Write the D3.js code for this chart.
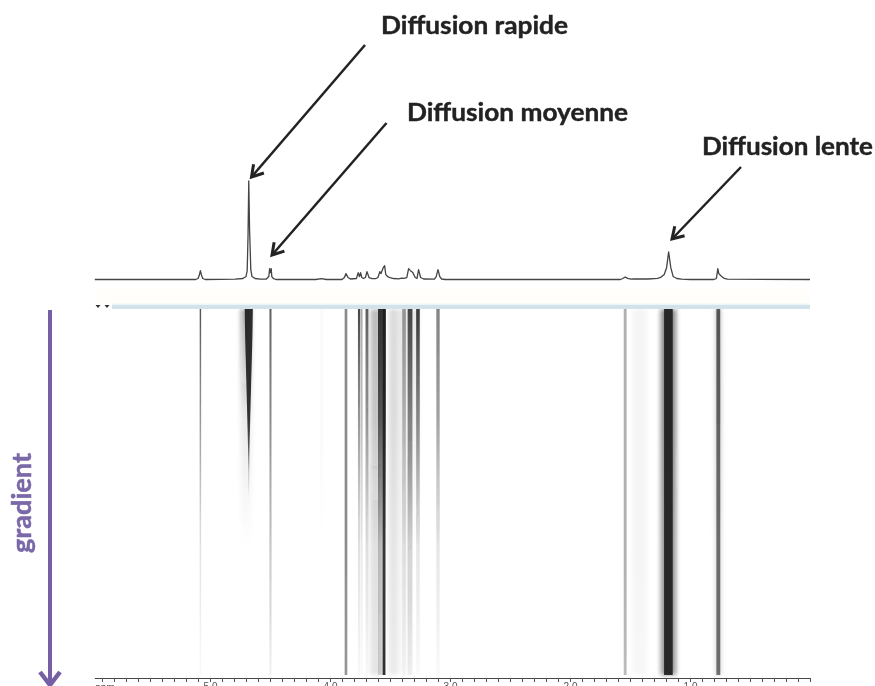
<!DOCTYPE html>
<html>
<head>
<meta charset="utf-8">
<script src="https://cdn.jsdelivr.net/npm/d3@7"></script>
<style>
html,body{margin:0;padding:0;background:#fff;overflow:hidden}
svg{display:block}
</style>
</head>
<body>
<div id="chart"></div>
<script>
// 1D spectrum
const spectrumPpm = [5.96,5.12,5.10,5.09,5.08,5.07,5.06,5.04,4.79,4.725,4.70,4.69,4.683,4.677,4.67,4.66,4.65,4.625,4.58,4.53,4.51,4.503,4.497,4.49,4.485,4.47,4.45,4.12,4.07,4.03,3.90,3.88,3.867,3.85,3.83,3.78,3.765,3.755,3.745,3.735,3.72,3.705,3.692,3.675,3.65,3.62,3.60,3.585,3.575,3.56,3.545,3.535,3.52,3.50,3.47,3.43,3.40,3.385,3.36,3.345,3.33,3.31,3.29,3.275,3.262,3.245,3.22,3.13,3.115,3.10,3.085,3.07,3.04,1.58,1.56,1.54,1.52,1.49,1.47,1.35,1.27,1.24,1.215,1.195,1.178,1.16,1.14,1.11,1.07,1.00,0.80,0.78,0.768,0.76,0.745,0.72,0.69,0];
const spectrumInt = [0,0,1,4,9,4,1,0,0.4,1,3,9,45,100,50,10,3,1,0.3,0.5,3,11,7,11,3,0.8,0,0,0.8,0,0,2,6,2,0.5,1,7,3,7,2,1,2,8,2,0.8,0.8,2,8,6,11,14,5,3,2,1,0.6,1.5,1.2,2,11,9,7,2,1,10,2,0.5,0.3,3,10,3,0.5,0,0,1,2.6,1.2,0.4,0.5,0.5,1.2,2.5,5,12,28,12,3,1,0.4,0,0,1,11,6,4,1.5,0.3,0];

// 2D map: one row per signal, strength read at four gradient depths
const depths = [0,0.3,0.65,1];
const bandPpm   = [5.08,4.496,4.07,3.867,3.757,3.735,3.692,3.567,3.55,3.383,3.333,3.267,3.10,1.54,1.18,0.764];
const bandWidth = [0.012,0.017,0.03,0.022,0.02,0.012,0.024,0.066,0.022,0.03,0.04,0.03,0.028,0.024,0.072,0.032];
const bandD0 = [0.75,0.7,0.02,0.5,0.8,0.4,0.7,0.9,0.9,0.4,0.8,0.85,0.55,0.35,0.92,0.7];
const bandD1 = [0.45,0.5,0.02,0.5,0.45,0.3,0.45,0.7,0.9,0.3,0.55,0.5,0.4,0.35,0.92,0.65];
const bandD2 = [0.12,0.25,0,0.5,0.12,0.1,0.12,0.25,0.85,0.1,0.2,0.1,0.1,0.35,0.92,0.6];
const bandD3 = [0.02,0.05,0,0.45,0.03,0.02,0.02,0.15,0.9,0.03,0.06,0.02,0.02,0.3,0.92,0.6];

// wider, softer signal skirts
const haloPpm   = [4.70,3.62,3.47,3.383,3.29,1.42,1.18,0.764];
const haloWidth = [0.09,0.09,0.08,0.07,0.06,0.12,0.13,0.05];
const haloD0 = [0.35,0.3,0.14,0.12,0.1,0.04,0.5,0.2];
const haloD1 = [0.08,0.25,0.14,0.08,0.06,0.04,0.5,0.2];
const haloD2 = [0,0.12,0.1,0.04,0,0.04,0.45,0.15];
const haloD3 = [0,0.1,0.08,0.02,0,0.03,0.45,0.15];

// fast-diffusing signal narrows with the gradient
const taperDepth = [0,0.08,0.2,0.3,0.38,0.44,0.52];
const taperHalf  = [0.034,0.03,0.02,0.012,0.006,0.004,0.002];
const taperPpm = 4.677;
const taperAlpha = [0.92,0.92,0.92,0.9,0.7,0.3,0];

const axisLabels = [5,4,3,2,1];
const labels = [
  {text:"Diffusion rapide", x:381, y:34, w:187},
  {text:"Diffusion moyenne", x:407, y:121, w:221},
  {text:"Diffusion lente", x:702, y:155, w:171}
];
const arrows = [
  [365,45,251.5,177],
  [386.5,123,272,255],
  [741,167,672,239]
];

const W = 875, H = 686;
const svg = d3.select("#chart").append("svg").attr("width",W).attr("height",H);
const defs = svg.append("defs");
const blur = (id,s)=>defs.append("filter").attr("id",id)
  .attr("x","-100%").attr("y","-5%").attr("width","300%").attr("height","110%")
  .append("feGaussianBlur").attr("stdDeviation",s);
blur("b1",0.75); blur("b2",2); blur("b0",0.35);

const x = d3.scaleLinear().domain([0,5]).range([810,210]);
const yS = d3.scaleLinear().domain([0,100]).range([279.5,181]);
const yD = d3.scaleLinear().domain([0,1]).range([309,675]);

// cream strip and separator
svg.append("rect").attr("x",x(5.96)).attr("y",289).attr("width",x(0)-x(5.96)).attr("height",15).attr("fill","#fffefb");

// spectrum
const line = d3.line().x(d=>x(d[0])).y(d=>yS(d[1]));
svg.append("path").datum(spectrumPpm.map((p,i)=>[p,spectrumInt[i]]))
  .attr("d",line).attr("fill","none").attr("stroke","#444").attr("stroke-width",1.3)
  .attr("stroke-linejoin","round").attr("filter","url(#b0)");

// 2D map
function grad(id,vals,depthList){
  const g = defs.append("linearGradient").attr("id",id).attr("x1",0).attr("x2",0).attr("y1",0).attr("y2",1);
  depthList.forEach((d,i)=>g.append("stop").attr("offset",d).attr("stop-color","#1c1c1c").attr("stop-opacity",vals[i]));
}
const gHalo = svg.append("g").attr("filter","url(#b2)");
haloPpm.forEach((p,i)=>{
  grad("h"+i,[haloD0[i],haloD1[i],haloD2[i],haloD3[i]],depths);
  gHalo.append("rect").attr("x",x(p+haloWidth[i]/2)).attr("y",yD(0))
    .attr("width",x(0)-x(haloWidth[i])).attr("height",yD(1)-yD(0)).attr("fill",`url(#h${i})`);
});
const gBand = svg.append("g").attr("filter","url(#b1)");
bandPpm.forEach((p,i)=>{
  grad("g"+i,[bandD0[i],bandD1[i],bandD2[i],bandD3[i]],depths);
  gBand.append("rect").attr("x",x(p+bandWidth[i]/2)).attr("y",yD(0))
    .attr("width",x(0)-x(bandWidth[i])).attr("height",yD(1)-yD(0)).attr("fill",`url(#g${i})`);
});
grad("tp",taperAlpha,taperDepth.map(d=>d/0.52));
const area = d3.area().y(d=>yD(d[0])).x0(d=>x(taperPpm+d[1])).x1(d=>x(taperPpm-d[1]));
svg.append("path").datum(taperDepth.map((d,i)=>[d,taperHalf[i]]))
  .attr("d",area).attr("fill","url(#tp)").attr("filter","url(#b0)");

// top bar
svg.append("rect").attr("x",112).attr("y",305).attr("width",698).attr("height",4).attr("fill","#d3e2ea").attr("filter","url(#b0)");
svg.append("rect").attr("x",112).attr("y",303.5).attr("width",698).attr("height",1.5).attr("fill","#eef5f8");
svg.selectAll("path.tri").data([98,107]).enter().append("path").attr("class","tri")
  .attr("d",d=>`M${d-2.5},305 h5 l-2.5,3 z`).attr("fill","#333").attr("filter","url(#b0)");

// ppm axis
const axis = d3.axisBottom(x)
  .tickValues(d3.range(0,60).map(i=>i/10))
  .tickFormat(d=>axisLabels.includes(Math.round(d*10)/10)?d3.format(".1f")(d):"")
  .tickSize(4).tickPadding(1);
const ax = svg.append("g").attr("transform","translate(0,678)").attr("filter","url(#b0)").call(axis);
ax.select(".domain").attr("d",`M${x(5.96)},0.5H${x(0)}`).attr("stroke","#444");
ax.selectAll(".tick line").attr("stroke","#555");
ax.selectAll(".tick text").attr("font-family","Liberation Sans").attr("font-size",10).attr("fill","#555");
svg.append("text").attr("x",105).attr("y",691).attr("text-anchor","middle").attr("filter","url(#b0)")
  .attr("font-family","Liberation Sans").attr("font-size",10).attr("fill","#555").text("ppm");

// annotations
const gA = svg.append("g").attr("filter","url(#b0)");
gA.selectAll("text.lab").data(labels).enter().append("text").attr("class","lab")
  .attr("x",d=>d.x).attr("y",d=>d.y).attr("textLength",d=>d.w).attr("lengthAdjust","spacingAndGlyphs")
  .attr("font-family","Lato, 'Open Sans', sans-serif").attr("font-weight",700).attr("font-size",24)
  .attr("fill","#222").attr("stroke","#222").attr("stroke-width",0.4).text(d=>d.text);
arrows.forEach(a=>{
  const ang = Math.atan2(a[3]-a[1],a[2]-a[0]);
  const head = s=>[a[2]-13*Math.cos(ang+s),a[3]-13*Math.sin(ang+s)];
  gA.append("line").attr("x1",a[0]).attr("y1",a[1]).attr("x2",a[2]).attr("y2",a[3])
    .attr("stroke","#222").attr("stroke-width",2.5);
  gA.append("path").attr("d",`M${head(0.55)}L${a[2]},${a[3]}L${head(-0.55)}`)
    .attr("fill","none").attr("stroke","#222").attr("stroke-width",3);
});

// gradient arrow
const purple = "#7461a6";
const gG = svg.append("g").attr("filter","url(#b0)");
gG.append("line").attr("x1",50).attr("y1",310).attr("x2",50).attr("y2",684).attr("stroke",purple).attr("stroke-width",4);
gG.append("path").attr("d","M40,672L50,685L60,672").attr("fill","none").attr("stroke",purple).attr("stroke-width",4.5);
gG.append("text").attr("transform","translate(31,553) rotate(-90)").attr("textLength",100).attr("lengthAdjust","spacingAndGlyphs")
  .attr("font-family","Lato, 'Open Sans', sans-serif").attr("font-weight",700).attr("font-size",26)
  .attr("fill","#7a68a8").attr("stroke","#7a68a8").attr("stroke-width",0.5).text("gradient");
</script>
</body>
</html>
